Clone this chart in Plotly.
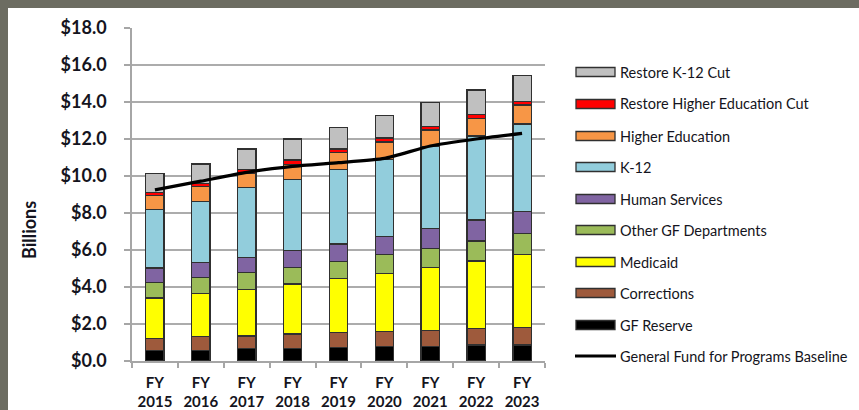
import plotly.graph_objects as go

# Fiscal years on the category axis
fiscal_years = ["FY<br>2015", "FY<br>2016", "FY<br>2017", "FY<br>2018", "FY<br>2019",
                "FY<br>2020", "FY<br>2021", "FY<br>2022", "FY<br>2023"]

# Stacked components, $ billions (bottom of stack first)
gf_reserve = [0.56, 0.57, 0.66, 0.66, 0.74, 0.77, 0.77, 0.86, 0.87]
corrections = [0.65, 0.74, 0.69, 0.80, 0.79, 0.82, 0.87, 0.91, 0.95]
medicaid = [2.20, 2.35, 2.52, 2.70, 2.94, 3.15, 3.42, 3.64, 3.95]
other_gf = [0.82, 0.86, 0.90, 0.90, 0.90, 1.01, 1.03, 1.08, 1.13]
human_services = [0.80, 0.79, 0.83, 0.91, 0.95, 0.97, 1.08, 1.13, 1.17]
k12 = [3.17, 3.30, 3.77, 3.83, 4.04, 4.18, 4.42, 4.54, 4.74]
higher_ed = [0.74, 0.83, 0.78, 0.83, 0.90, 0.94, 0.90, 0.96, 1.03]
restore_he_cut = [0.18, 0.16, 0.21, 0.23, 0.20, 0.21, 0.18, 0.21, 0.18]
restore_k12_cut = [1.03, 1.05, 1.10, 1.14, 1.17, 1.21, 1.31, 1.32, 1.40]

# Baseline line, $ billions
gf_baseline = [9.25, 9.72, 10.20, 10.52, 10.72, 10.95, 11.62, 12.00, 12.30]

y_ticks = [0, 2, 4, 6, 8, 10, 12, 14, 16, 18]
y_tick_labels = [f"${v:.1f}" for v in y_ticks]

stack = [
    ("GF Reserve", gf_reserve, "#000000"),
    ("Corrections", corrections, "#9e5a3c"),
    ("Medicaid", medicaid, "#ffff00"),
    ("Other GF Departments", other_gf, "#9bbb59"),
    ("Human Services", human_services, "#8064a2"),
    ("K-12", k12, "#92cddc"),
    ("Higher Education", higher_ed, "#f79646"),
    ("Restore Higher Education Cut", restore_he_cut, "#ff0000"),
    ("Restore K-12 Cut", restore_k12_cut, "#c0c0c0"),
]
line_name = "General Fund for Programs Baseline"

TEXT = "#141420"
FONT = "Lato"

fig = go.Figure()
for name, vals, color in stack:
    fig.add_trace(go.Bar(
        x=fiscal_years, y=vals, name=name, width=0.4,
        marker=dict(color=color, line=dict(color="#303030", width=1.3)),
        showlegend=False,
    ))

fig.add_trace(go.Scatter(
    x=fiscal_years, y=gf_baseline, name=line_name, mode="lines",
    line=dict(color="#000000", width=3.2, shape="spline", smoothing=0.5),
    showlegend=False,
))

# Plot area geometry in pixels (used to place the hand-drawn legend)
W, H = 859, 410
L, R, T, B = 132, 314, 28, 49
pw, ph = W - L - R, H - T - B


def px_x(px):
    return (px - L) / pw


def px_y(py):
    return (H - B - py) / ph


shapes = [
    # white panel over the dark frame
    dict(type="rect", xref="paper", yref="paper", layer="below",
         x0=px_x(8), x1=px_x(W + 5), y0=px_y(H + 5), y1=px_y(8),
         fillcolor="white", line=dict(width=0)),
]
annotations = []

# Legend: top entry first
legend_items = [(n, c) for n, _, c in reversed(stack)]
row_y = [72, 104, 136, 167, 199, 230, 262, 293, 325]
for (name, color), cy in zip(legend_items, row_y):
    shapes.append(dict(type="rect", xref="paper", yref="paper",
                       x0=px_x(576), x1=px_x(615), y0=px_y(cy + 4.5), y1=px_y(cy - 4.5),
                       fillcolor=color, line=dict(color="#303030", width=1.3)))
    annotations.append(dict(xref="paper", yref="paper", x=px_x(618), y=px_y(cy),
                            xanchor="left", yanchor="middle", showarrow=False,
                            text=name, font=dict(family=FONT, size=14.5, color=TEXT)))
shapes.append(dict(type="line", xref="paper", yref="paper",
                   x0=px_x(575), x1=px_x(616), y0=px_y(356), y1=px_y(356),
                   line=dict(color="#000000", width=3)))
annotations.append(dict(xref="paper", yref="paper", x=px_x(618), y=px_y(356),
                        xanchor="left", yanchor="middle", showarrow=False,
                        text=line_name, font=dict(family=FONT, size=14.5, color=TEXT)))

# Axis title
annotations.append(dict(xref="paper", yref="paper", x=px_x(29), y=px_y(230),
                        xanchor="center", yanchor="middle", showarrow=False,
                        textangle=-90, text="<b>Billions</b>",
                        font=dict(family=FONT, size=18, color=TEXT)))

fig.update_layout(
    width=W, height=H,
    margin=dict(l=L, r=R, t=T, b=B, pad=0),
    paper_bgcolor="#6c6c61",
    plot_bgcolor="white",
    barmode="stack",
    shapes=shapes,
    annotations=annotations,
    font=dict(family=FONT, color=TEXT),
)

fig.update_xaxes(
    type="category", range=[-0.5, 8.5], automargin=False,
    showline=True, linecolor="#a6a6a6", linewidth=1.5,
    ticks="outside", tickson="boundaries", ticklen=5, tickcolor="#a6a6a6", tickwidth=1.5,
    showgrid=False, ticklabelstandoff=7,
    tickfont=dict(family=FONT, size=15, color=TEXT, weight="bold"),
)
fig.update_yaxes(
    range=[0, 18], tickmode="array", tickvals=y_ticks, ticktext=y_tick_labels,
    automargin=False,
    showline=True, linecolor="#a6a6a6", linewidth=1.5,
    ticks="outside", ticklen=6, tickcolor="#a6a6a6", tickwidth=1.5,
    showgrid=True, gridcolor="#acacac", gridwidth=1.5, zeroline=False,
    ticklabelstandoff=14,
    tickfont=dict(family=FONT, size=18, color=TEXT, weight="bold"),
)

fig.write_html("out.html")
